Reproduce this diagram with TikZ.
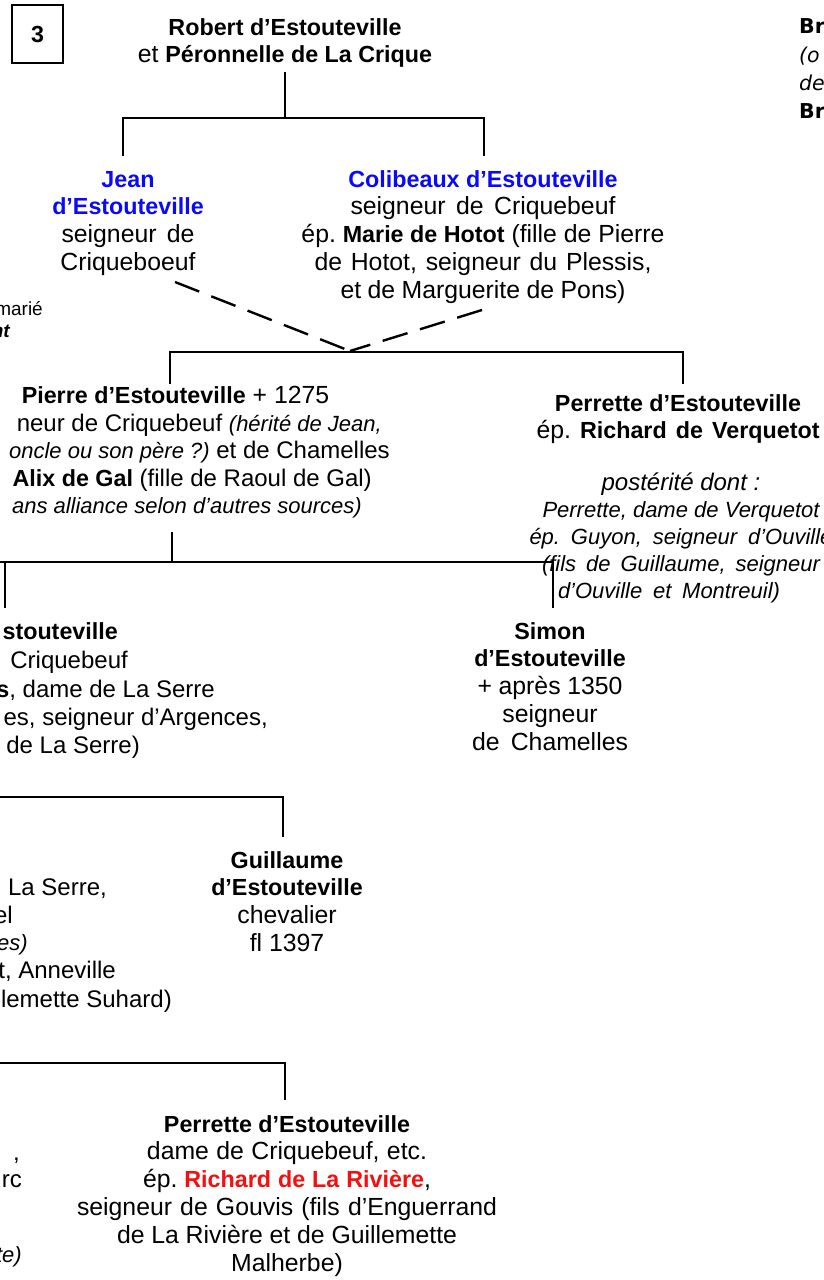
\documentclass[tikz,border=0pt]{standalone}
\usepackage{fontspec}
\setmainfont{Liberation Sans}
\newfontfamily\dvs{DejaVu Sans}
\frenchspacing
\definecolor{jblue}{RGB}{10,10,250}
\definecolor{jred}{RGB}{245,15,15}
\newcommand\nm[1]{{\fontsize{23.3}{27.8}\selectfont\bfseries #1}}
\newcommand\si[1]{{\fontsize{22}{27}\selectfont\itshape #1}}
\newcommand\jw[2]{\hbox to #1pt{\spaceskip=.278em plus 1fil minus .15em\relax #2}}
\newcommand\stk[1]{\vtop{\baselineskip=27.8pt\lineskiplimit=-100pt\lineskip=0pt\halign{\hfil##\hfil\cr#1\crcr}}}
\newcommand\stkb[1]{\vtop{\baselineskip=27pt\lineskiplimit=-100pt\lineskip=0pt\halign{\hfil##\hfil\cr#1\crcr}}}
\tikzset{
  every node/.style={font=\fontsize{24.8}{27.8}\selectfont, inner sep=0pt, anchor=base},
  cut/.style={anchor=base east, font=\fontsize{24}{27.8}\selectfont},
  tree/.style={line width=2.4pt, black},
  dsh/.style={line width=2.4pt, black, dash pattern=on 26pt off 13pt},
}
\begin{document}
\begin{tikzpicture}[x=1pt,y=-1pt]
\useasboundingbox (0,0) rectangle (824,1280);
\fill[white] (0,0) rectangle (824,1280);
\clip (0,0) rectangle (824,1280);

% box 3
\node[draw, line width=1.3pt, minimum width=51pt, minimum height=58pt, anchor=center, font=\fontsize{18}{20}\selectfont] (box3) at (37.5,34) {\nm{3}};

% level 0
\node (robert) at (285,35) {\stk{\nm{Robert d’Estouteville}\cr et \nm{Péronnelle de La Crique}}};

% level 1
\node (jean) at (128,187) {\stk{\textcolor{jblue}{\nm{Jean}}\cr \textcolor{jblue}{\nm{d’Estouteville}}\cr \jw{133}{seigneur de}\cr Criqueboeuf}};
\node (colib) at (483,187) {\stk{\textcolor{jblue}{\nm{Colibeaux d’Estouteville}}\cr \jw{265}{seigneur de Criquebeuf}\cr ép. \nm{Marie de Hotot} (fille de Pierre\cr \jw{337}{de Hotot, seigneur du Plessis,}\cr \jw{285}{et de Marguerite de Pons)}}};

% left fragments near top
\node[anchor=base east, font=\fontsize{19}{22}\selectfont] (lm1) at (43,315) {marié};
\node[anchor=base east, font=\fontsize{19}{22}\selectfont] (lm2) at (10,337) {\bfseries\itshape nt};

% top right fragments
\node[anchor=base west, font=\fontsize{20.5}{28}\dvs] (tr1) at (799,33) {\bfseries Br};
\node[anchor=base west, font=\fontsize{20.5}{28}\dvs] (tr2) at (799,62) {\itshape (o};
\node[anchor=base west, font=\fontsize{20.5}{28}\dvs] (tr3) at (799,90) {\itshape de};
\node[anchor=base west, font=\fontsize{20.5}{28}\dvs] (tr4) at (799,118) {\bfseries Br};

% level 2
\node (pierre) at (175.5,403) {\nm{Pierre d’Estouteville} + 1275};
\node[cut] (pierre2) at (382,431) {neur de Criquebeuf \si{(hérité de Jean,}};
\node[cut] (pierre3) at (390,458) {\si{oncle ou son père ?)} et de Chamelles};
\node[cut] (pierre4) at (372,486) {\nm{Alix de Gal} (fille de Raoul de Gal)};
\node[cut] (pierre5) at (362,513) {\si{ans alliance selon d’autres sources)}};

\node (perrette) at (678,411) {\stk{\nm{Perrette d’Estouteville}\cr \jw{283}{ép. \nm{Richard de Verquetot}}}};
\node (poster) at (681,490) {\stkb{{\fontsize{24}{27}\selectfont\itshape postérité dont :}\cr \si{\jw{277}{Perrette, dame de Verquetot}}\cr \si{\jw{303}{ép. Guyon, seigneur d’Ouville}}\cr \si{\jw{278}{(fils de Guillaume, seigneur}}\cr \si{\jw{222}{d’Ouville et Montreuil)}}\kern24pt}};

% level 3
\node[cut] (lc31) at (118,639) {\nm{stouteville}};
\node[cut] (lc32) at (128,668) {Criquebeuf};
\node[cut] (lc33) at (215,697) {\nm{s}, dame de La Serre};
\node[cut] (lc34) at (268,725) {es, seigneur d’Argences,};
\node[cut] (lc35) at (140,753) {de La Serre)};
\node (simon) at (550,639) {\stk{\nm{Simon}\cr \nm{d’Estouteville}\cr \jw{145}{+ après 1350}\cr seigneur\cr \jw{156}{de Chamelles}}};

% level 4
\node[cut] (lc41) at (107,895) {La Serre,};
\node[cut] (lc42) at (13,923) {el};
\node[cut] (lc43) at (28,950) {\si{es)}};
\node[cut] (lc44) at (116,978) {t, Anneville};
\node[cut] (lc45) at (172,1007) {lemette Suhard)};
\node (guill) at (287,868) {\stk{\nm{Guillaume}\cr \nm{d’Estouteville}\cr chevalier\cr fl 1397}};

% level 5
\node[cut] (lc51) at (20,1160) {,};
\node[cut] (lc52) at (22,1187) {rc};
\node[cut] (lc53) at (22,1262) {\si{te)}};
\node (perr2) at (287,1132) {\stk{\nm{Perrette d’Estouteville}\cr \jw{280}{dame de Criquebeuf, etc.}\cr \jw{288}{ép. \textcolor{jred}{\nm{Richard de La Rivière}},}\cr \jw{420}{seigneur de Gouvis (fils d’Enguerrand}\cr \jw{340}{de La Rivière et de Guillemette}\cr Malherbe)}};

% connectors
\coordinate (r0) at (285,72);
\coordinate (r1) at (285,118);
\coordinate (jb) at (123,118);
\coordinate (jt) at (123,156);
\coordinate (cb) at (484,118);
\coordinate (ct) at (484,156);
\draw[tree] (r0) -- (r1);
\draw[tree] (jt) -- (jb) -- (cb) -- (ct);

\coordinate (jd) at (175,282);
\coordinate (cd) at (482,310);
\coordinate (m2) at (350,351);
\draw[dsh] (jd) -- (m2);
\draw[dsh] (cd) -- (m2);

\coordinate (p2a) at (170,384);
\coordinate (p2b) at (170,352);
\coordinate (p2c) at (683,352);
\coordinate (p2d) at (683,384);
\draw[tree] (p2a) -- (p2b) -- (p2c) -- (p2d);

\coordinate (p3a) at (172,532);
\coordinate (p3b) at (172,562);
\coordinate (p3l) at (-5,562);
\coordinate (p3lt) at (5,562);
\coordinate (p3ld) at (5,608);
\coordinate (p3r) at (553,562);
\coordinate (p3rd) at (553,608);
\draw[tree] (p3a) -- (p3b);
\draw[tree] (p3l) -- (p3r) -- (p3rd);
\draw[tree] (p3lt) -- (p3ld);

\coordinate (l4a) at (-5,797);
\coordinate (l4b) at (283,797);
\coordinate (l4c) at (283,837);
\draw[tree] (l4a) -- (l4b) -- (l4c);

\coordinate (l5a) at (-5,1063);
\coordinate (l5b) at (285,1063);
\coordinate (l5c) at (285,1100);
\draw[tree] (l5a) -- (l5b) -- (l5c);
\end{tikzpicture}
\end{document}
